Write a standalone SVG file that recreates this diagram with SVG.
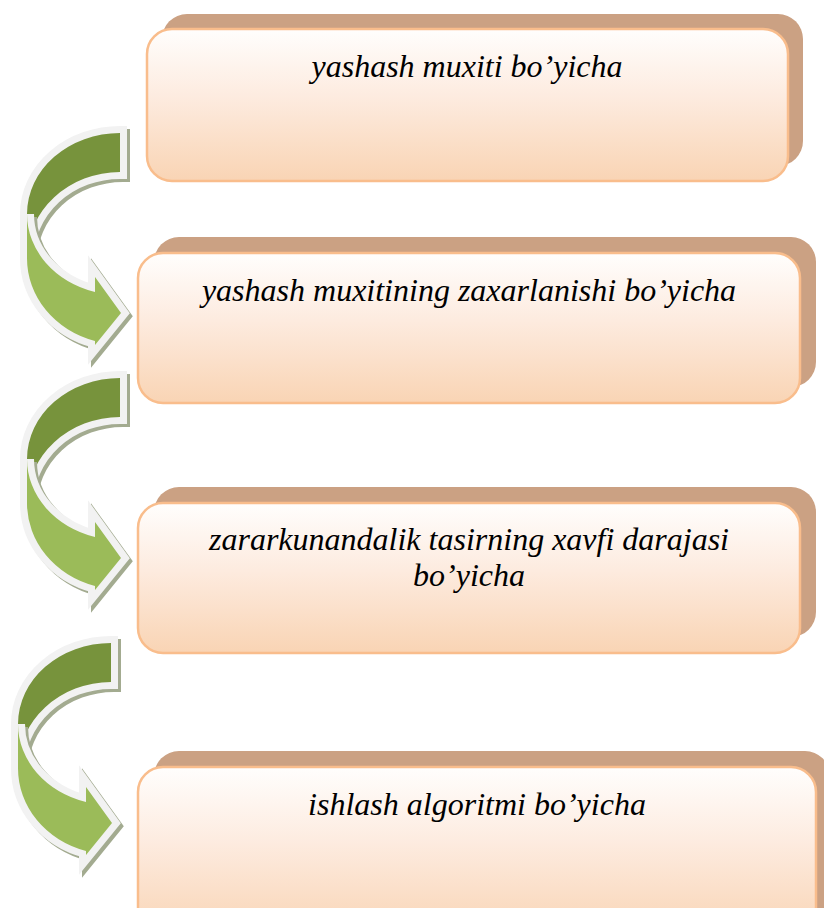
<svg xmlns="http://www.w3.org/2000/svg" width="824" height="908" viewBox="0 0 824 908">
  <style>
    .back { fill: #cba183; }
    .front { fill: url(#peach); stroke: #f9bd8c; stroke-width: 2.5; }
    .label { font-family: "Liberation Serif", "Times New Roman", serif; font-style: italic; font-size: 32px; fill: #000; text-anchor: middle; }
    .shadow { fill: #a3ab90; stroke: #a3ab90; stroke-width: 14; stroke-linejoin: miter; stroke-miterlimit: 10; }
    .dark { fill: #77933c; stroke: #f2f2f2; stroke-width: 14; stroke-linejoin: miter; stroke-miterlimit: 10; paint-order: stroke; }
    .light { fill: #9bbb59; stroke: #f2f2f2; stroke-width: 14; stroke-linejoin: miter; stroke-miterlimit: 10; paint-order: stroke; }
  </style>
  <defs>
    <linearGradient id="peach" x1="0" y1="0" x2="0" y2="1">
      <stop offset="0" stop-color="#fffefd"/>
      <stop offset="0.45" stop-color="#fdebdf"/>
      <stop offset="1" stop-color="#f9d4b4"/>
    </linearGradient>
    <path id="darkBand" d="M 120,133 A 93 81 0 0 0 27,214 L 27,258 A 93 86 0 0 1 120,172 Z"/>
    <path id="lightBand" d="M 27,214 A 93 81 0 0 0 95,292 L 95,277 L 121,313 L 95,345 L 95,341 A 93 86 0 0 1 27,258 Z"/>
    <g id="curvedArrow">
      <use href="#darkBand" class="shadow" transform="translate(3,3)"/>
      <use href="#darkBand" class="dark"/>
      <use href="#lightBand" class="shadow" transform="translate(3,3)"/>
      <use href="#lightBand" class="light"/>
    </g>
  </defs>

  <rect width="824" height="908" fill="#ffffff"/>

  <g id="connectors">
    <g id="arrow1"><use href="#curvedArrow"/></g>
    <g id="arrow2"><use href="#curvedArrow" transform="translate(0,245)"/></g>
    <g id="arrow3"><use href="#curvedArrow" transform="translate(-9,510)"/></g>
  </g>

  <g id="node1">
    <rect class="back" x="162" y="14" width="641" height="152" rx="25"/>
    <rect class="front" x="147" y="29" width="641" height="152" rx="25"/>
    <text class="label" x="467" y="77">yashash muxiti bo’yicha</text>
  </g>

  <g id="node2">
    <rect class="back" x="154" y="237" width="662" height="150" rx="25"/>
    <rect class="front" x="138" y="253" width="662" height="150" rx="25"/>
    <text class="label" x="469" y="301">yashash muxitining zaxarlanishi bo’yicha</text>
  </g>

  <g id="node3">
    <rect class="back" x="154" y="487" width="662" height="150" rx="25"/>
    <rect class="front" x="138" y="503" width="662" height="150" rx="25"/>
    <text class="label" x="469" y="550">zararkunandalik tasirning xavfi darajasi</text>
    <text class="label" x="469" y="586">bo’yicha</text>
  </g>

  <g id="node4">
    <rect class="back" x="154" y="751" width="676" height="170" rx="25"/>
    <rect class="front" x="138" y="767" width="678" height="170" rx="25"/>
    <text class="label" x="477" y="815">ishlash algoritmi bo’yicha</text>
  </g>
</svg>
